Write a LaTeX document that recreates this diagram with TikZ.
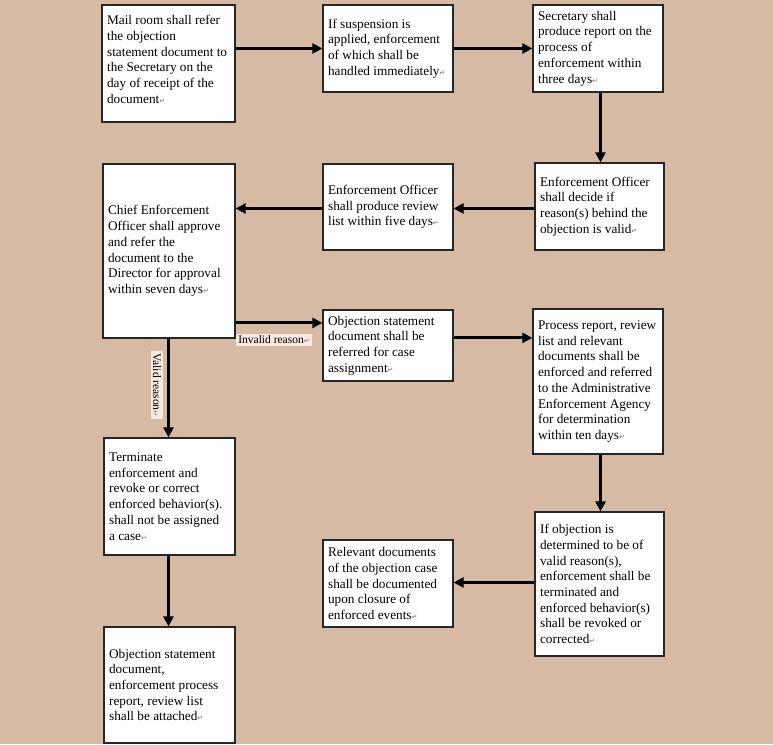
\documentclass[tikz,border=0pt]{standalone}
\usepackage{fontspec}
\setmainfont{Liberation Serif}
\newfontfamily\dejavu{DejaVu Sans}
\usetikzlibrary{arrows.meta}
\definecolor{paper}{RGB}{214,186,164}
\definecolor{labelbg}{RGB}{248,232,222}
\newcommand\retmark{{\fontsize{7}{7}\selectfont\dejavu\color{black!55}↵}}
\tikzset{
  box/.style={draw=black!85, line width=1.2pt, fill=white, inner sep=0pt},
  txt/.style={align=left, inner sep=0pt, anchor=west, font=\fontsize{13.25}{15.7}\selectfont},
  arr/.style={draw=black, line width=3pt, -{Triangle[length=10pt,width=10pt]}},
  lbl/.style={fill=labelbg, inner sep=2pt, font=\fontsize{11.5}{13}\selectfont}
}
% name, cx, cy, width, height, text
\newcommand\flowbox[7][0]{%
  \node[box, minimum width=#5pt, minimum height=#6pt] (#2) at (#3,#4) {};
  \node[txt] (#2t) at ([xshift=5.5pt,yshift=#1pt]#2.west) {#7};
}
\begin{document}
\begin{tikzpicture}[x=1pt,y=-1pt]
\useasboundingbox[fill=paper] (0,0) rectangle (773,744);
% boxes
\flowbox[4]{A}{168.5}{63.5}{133}{117}
  {Mail room shall refer\\the objection\\statement document to\\the Secretary on the\\day of receipt of the\\document\retmark}
\flowbox{B}{388}{48.5}{130}{87}
  {If suspension is\\applied, enforcement\\of which shall be\\handled immediately\retmark}
\flowbox{C}{598}{48.5}{130}{87}
  {Secretary shall\\produce report on the\\process of\\enforcement within\\three days\retmark}
\flowbox{D}{599.5}{206.5}{129}{87}
  {Enforcement Officer\\shall decide if\\reason(s) behind the\\objection is valid\retmark}
\flowbox{E}{388}{207}{130}{86}
  {Enforcement Officer\\shall produce review\\list within five days\retmark}
\flowbox{F}{169}{251}{132}{174}
  {Chief Enforcement\\Officer shall approve\\and refer the\\document to the\\Director for approval\\within seven days\retmark}
\flowbox{G}{388}{345.5}{130}{71}
  {Objection statement\\document shall be\\referred for case\\assignment\retmark}
\flowbox{K}{598}{381.5}{130}{145}
  {Process report, review\\list and relevant\\documents shall be\\enforced and referred\\to the Administrative\\Enforcement Agency\\for determination\\within ten days\retmark}
\flowbox{H}{169.5}{496.5}{131}{117}
  {Terminate\\enforcement and\\revoke or correct\\enforced behavior(s).\\shall not be assigned\\a case\retmark}
\flowbox{I}{169.5}{685}{131}{116}
  {Objection statement\\document,\\enforcement process\\report, review list\\shall be attached\retmark}
\flowbox{J}{388}{583.5}{130}{87}
  {Relevant documents\\of the objection case\\shall be documented\\upon closure of\\enforced events\retmark}
\flowbox{L}{599.5}{584}{129}{144}
  {If objection is\\determined to be of\\valid reason(s),\\enforcement shall be\\terminated and\\enforced behavior(s)\\shall be revoked or\\corrected\retmark}
% connectors
\coordinate (b1) at (B.west);
\draw[arr] (A.east |- b1) -- (b1);
\draw[arr] (B.east) -- (C.west);
\coordinate (c1) at ([xshift=2.5pt]C.south);
\draw[arr] (c1) -- (c1 |- D.north);
\coordinate (d1) at ([yshift=-2pt]D.west);
\draw[arr] (d1) -- (d1 -| E.east);
\draw[arr] (d1 -| E.west) -- (d1 -| F.east);
\coordinate (g1) at ([yshift=-13.5pt]G.north west);
\draw[arr] (F.east |- g1) -- (g1);
\coordinate (k1) at ([yshift=-29.5pt]K.north west);
\draw[arr] (G.east |- k1) -- (k1);
\coordinate (f1) at ([xshift=-0.5pt]F.south);
\draw[arr] (f1) -- (f1 |- H.north);
\coordinate (h1) at ([xshift=-1pt]H.south);
\draw[arr] (h1) -- (h1 |- I.north);
\coordinate (k2) at ([xshift=2.5pt]K.south);
\draw[arr] (k2) -- (k2 |- L.north);
\coordinate (l1) at ([yshift=1.5pt]L.west);
\draw[arr] (l1) -- (l1 -| J.east);
% labels
\node[lbl] (inv) at (274,340) {Invalid reason\retmark};
\node[lbl, rotate=-90] (val) at (157,385) {Valid reason\retmark};
\end{tikzpicture}
\end{document}
